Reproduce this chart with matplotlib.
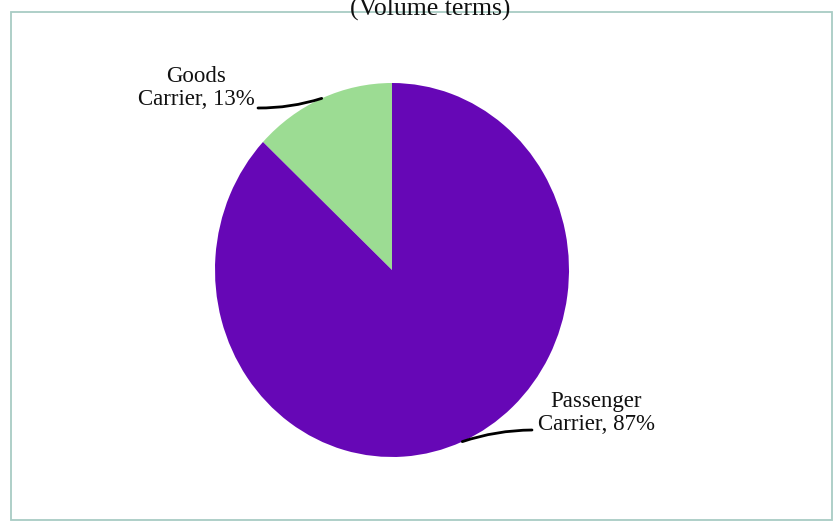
import numpy as np
import matplotlib.pyplot as plt

plt.rcParams["font.family"] = ["Liberation Serif", "DejaVu Serif"]

# share of vehicles sold, volume terms
segments = ["Goods\nCarrier", "Passenger\nCarrier"]
shares = [13, 87]
colors = ["#9cdc93", "#6607b6"]

W, H = 834, 522
fig = plt.figure(figsize=(W / 100, H / 100), dpi=100)

# outer frame of the chart area
frame = plt.Rectangle((11 / W, 2 / H), 821 / W, 508 / H, transform=fig.transFigure,
                      fill=False, edgecolor="#a8ccc4", linewidth=1.3)
fig.patches.append(frame)

fig.text(430 / W, 1 - 16 / H, "(Volume terms)", ha="center", va="baseline",
         fontsize=18.5, color="#111111")

# pie axes: box in pixels (left, top, right, bottom)
left, top, right, bottom = 215, 83, 569, 457
ax = fig.add_axes([left / W, 1 - bottom / H, (right - left) / W, (bottom - top) / H])
wedges, _ = ax.pie(shares, colors=colors, startangle=90, counterclock=True,
                   radius=1, wedgeprops=dict(linewidth=0))
ax.set_aspect("auto")
ax.set_xlim(-1, 1)
ax.set_ylim(-1, 1)
ax.axis("off")

# label positions (figure pixels, from top) and leader line starts
label_xy = [(196, 105), (596, 430)]
line_start = [(258, 108), (532, 430)]
label_ha = ["center", "center"]

for w, seg, share, (lx, ly), (sx, sy) in zip(wedges, segments, shares, label_xy, line_start):
    mid = np.deg2rad((w.theta1 + w.theta2) / 2)
    ax.annotate("", xy=(np.cos(mid), np.sin(mid)), xycoords="data",
                xytext=(sx, H - sy), textcoords="figure pixels",
                arrowprops=dict(arrowstyle="-", color="black", lw=2,
                                shrinkA=0, shrinkB=0,
                                connectionstyle="arc3,rad=0.08"))
    fig.text(lx / W, 1 - ly / H, f"{seg}, {share}%", ha="center", va="baseline",
             multialignment="center", fontsize=16.5, linespacing=1.15,
             color="#111111")

fig.savefig("out.png", dpi=100)
